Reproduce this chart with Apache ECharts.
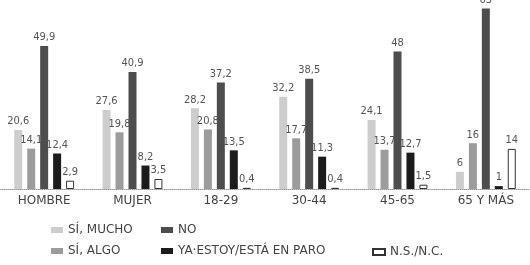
<!DOCTYPE html>
<html>
<head>
<meta charset="utf-8">
<script src="https://cdn.jsdelivr.net/npm/echarts@6/dist/echarts.min.js"></script>
<style>
  html, body { margin: 0; padding: 0; background: #fff; }
  #chart { width: 530px; height: 265px; }
</style>
</head>
<body>
<div id="chart"></div>
<script>
// grupos
const categories = ['HOMBRE', 'MUJER', '18-29', '30-44', '45-65', '65 Y MÁS']

// porcentajes por respuesta
const siMucho = [20.6, 27.6, 28.2, 32.2, 24.1, 6]
const siAlgo = [14.1, 19.8, 20.8, 17.7, 13.7, 16]
const no = [49.9, 40.9, 37.2, 38.5, 48, 63]
const enParo = [12.4, 8.2, 13.5, 11.3, 12.7, 1]
const nsnc = [2.9, 3.5, 0.4, 0.4, 1.5, 14]

const names = ['SÍ, MUCHO', 'SÍ, ALGO', 'NO', 'YA·ESTOY/ESTÁ EN PARO', 'N.S./N.C.']
const colors = ['#cdcdcd', '#9c9c9c', '#4d4d4d', '#1c1c1c', '#ffffff']

let myChart = echarts.init(document.getElementById('chart'))

function makeSeries(name, data, color, border) {
  return {
    name: name,
    type: 'bar',
    data: data,
    barWidth: 8,
    barGap: '62%',
    clip: false,
    itemStyle: {
      color: color,
      borderColor: border || color,
      borderWidth: border ? 1 : 0
    },
    label: {
      show: true,
      position: 'top',
      distance: 3,
      fontFamily: '"Liberation Sans Narrow", "DejaVu Sans Condensed", sans-serif',
      fontSize: 11,
      color: '#555',
      formatter: function (p) {
        return String(p.value).replace('.', ',')
      }
    }
  }
}

let legendText = {
  fontFamily: '"DejaVu Sans", sans-serif',
  fontSize: 12,
  color: '#444'
}

function makeLegend(left, top, data) {
  return {
    orient: 'vertical',
    left: left,
    top: top,
    padding: 0,
    itemWidth: 12,
    itemHeight: 6,
    itemGap: 9,
    icon: 'rect',
    textStyle: legendText,
    data: data
  }
}

let option = {
  animation: false,
  backgroundColor: '#fff',
  grid: {
    left: 0,
    right: 0,
    top: 0,
    bottom: 76
  },
  legend: [
    makeLegend(51, 224, [names[0], names[1]]),
    makeLegend(161, 224, [names[2], names[3]]),
    makeLegend(372, 246, [names[4]])
  ],
  xAxis: {
    type: 'category',
    data: categories,
    axisTick: { show: false },
    axisLine: {
      lineStyle: { color: '#8f9db0', type: 'dotted', width: 1 }
    },
    axisLabel: {
      margin: 6,
      fontFamily: '"DejaVu Sans", sans-serif',
      fontSize: 12,
      color: '#444',
      interval: 0
    }
  },
  yAxis: {
    type: 'value',
    min: 0,
    max: 66,
    show: false,
    splitLine: { show: false }
  },
  series: [
    makeSeries(names[0], siMucho, colors[0]),
    makeSeries(names[1], siAlgo, colors[1]),
    makeSeries(names[2], no, colors[2]),
    makeSeries(names[3], enParo, colors[3]),
    makeSeries(names[4], nsnc, colors[4], '#333')
  ]
}

myChart.setOption(option)
</script>
</body>
</html>
